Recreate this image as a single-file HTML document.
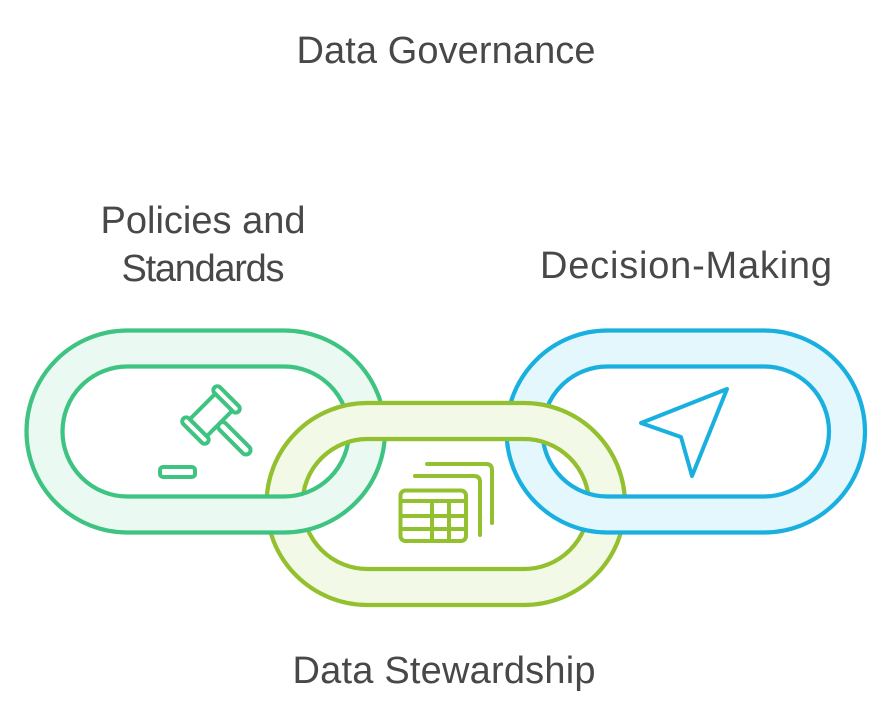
<!DOCTYPE html>
<html>
<head>
<meta charset="utf-8">
<style>
  html, body { margin: 0; padding: 0; background: #ffffff; }
  body { width: 892px; height: 720px; overflow: hidden; }
  svg { display: block; }
  text { font-family: "Liberation Sans", Arial, sans-serif; font-size: 38px; fill: #484848; }
</style>
</head>
<body>
<svg width="892" height="720" viewBox="0 0 892 720" xmlns="http://www.w3.org/2000/svg">
  <defs>
    <clipPath id="topclip"><rect x="0" y="0" width="892" height="467"/></clipPath>
  </defs>

  <!-- Yellow (middle) link -->
  <path d="M367.5,403 H524 A101,101 0 0 1 524,605 H367.5 A101,101 0 0 1 367.5,403 Z
           M367.5,439 H524 A65,65 0 0 1 524,569 H367.5 A65,65 0 0 1 367.5,439 Z"
        fill="#F3F9E7" fill-rule="evenodd" stroke="#93C02F" stroke-width="4.2"/>

  <!-- Green (left) link -->
  <path d="M127.5,330.5 H284 A101,101 0 0 1 284,532.5 H127.5 A101,101 0 0 1 127.5,330.5 Z
           M127.5,366.5 H284 A65,65 0 0 1 284,496.5 H127.5 A65,65 0 0 1 127.5,366.5 Z"
        fill="#EAFAF2" fill-rule="evenodd" stroke="#3EC480" stroke-width="4.2"/>

  <!-- Blue (right) link -->
  <path d="M607.5,330.5 H764 A101,101 0 0 1 764,532.5 H607.5 A101,101 0 0 1 607.5,330.5 Z
           M607.5,366.5 H764 A65,65 0 0 1 764,496.5 H607.5 A65,65 0 0 1 607.5,366.5 Z"
        fill="#E4F7FD" fill-rule="evenodd" stroke="#19B0E0" stroke-width="4.2"/>

  <!-- Yellow redrawn on top in upper region (interlock) -->
  <g clip-path="url(#topclip)">
    <path d="M367.5,403 H524 A101,101 0 0 1 524,605 H367.5 A101,101 0 0 1 367.5,403 Z
             M367.5,439 H524 A65,65 0 0 1 524,569 H367.5 A65,65 0 0 1 367.5,439 Z"
          fill="#F3F9E7" fill-rule="evenodd" stroke="#93C02F" stroke-width="4.2"/>
  </g>

  <!-- Gavel icon -->
  <g fill="none" stroke="#3EC480" stroke-width="4" stroke-linejoin="round" stroke-linecap="round">
    <g transform="translate(211,415) rotate(45)">
      <rect x="-17" y="-26" width="34" height="8" rx="4"/>
      <rect x="-17" y="18" width="34" height="8" rx="4"/>
      <rect x="-12" y="-18" width="24" height="36"/>
      <rect x="12" y="-4.5" width="42" height="9" rx="4.5"/>
    </g>
    <rect x="160" y="467" width="35" height="10" rx="3"/>
  </g>

  <!-- Table icon -->
  <g fill="none" stroke="#93C02F" stroke-width="4" stroke-linejoin="round" stroke-linecap="round">
    <path d="M427,464 H486 Q492,464 492,470 V523"/>
    <path d="M415,476 H474 Q480,476 480,482 V535"/>
    <rect x="400.5" y="490.5" width="65.5" height="50.5" rx="5"/>
    <line x1="400.5" y1="501" x2="466" y2="501"/>
    <line x1="400.5" y1="516" x2="466" y2="516"/>
    <line x1="400.5" y1="529" x2="466" y2="529"/>
    <line x1="432" y1="501" x2="432" y2="541"/>
    <line x1="449" y1="501" x2="449" y2="541"/>
  </g>

  <!-- Navigation arrow icon -->
  <path d="M727,389 L641,423 L681,437 L692,476 Z" fill="none" stroke="#19B0E0" stroke-width="4" stroke-linejoin="round"/>

  <!-- Labels -->
  <text x="446" y="63" text-anchor="middle" textLength="299">Data Governance</text>
  <text x="203" y="233" text-anchor="middle" textLength="205">Policies and</text>
  <text x="203" y="281" text-anchor="middle" textLength="163">Standards</text>
  <text x="686" y="278" text-anchor="middle" textLength="292">Decision-Making</text>
  <text x="444" y="683" text-anchor="middle" textLength="303">Data Stewardship</text>
</svg>
</body>
</html>
